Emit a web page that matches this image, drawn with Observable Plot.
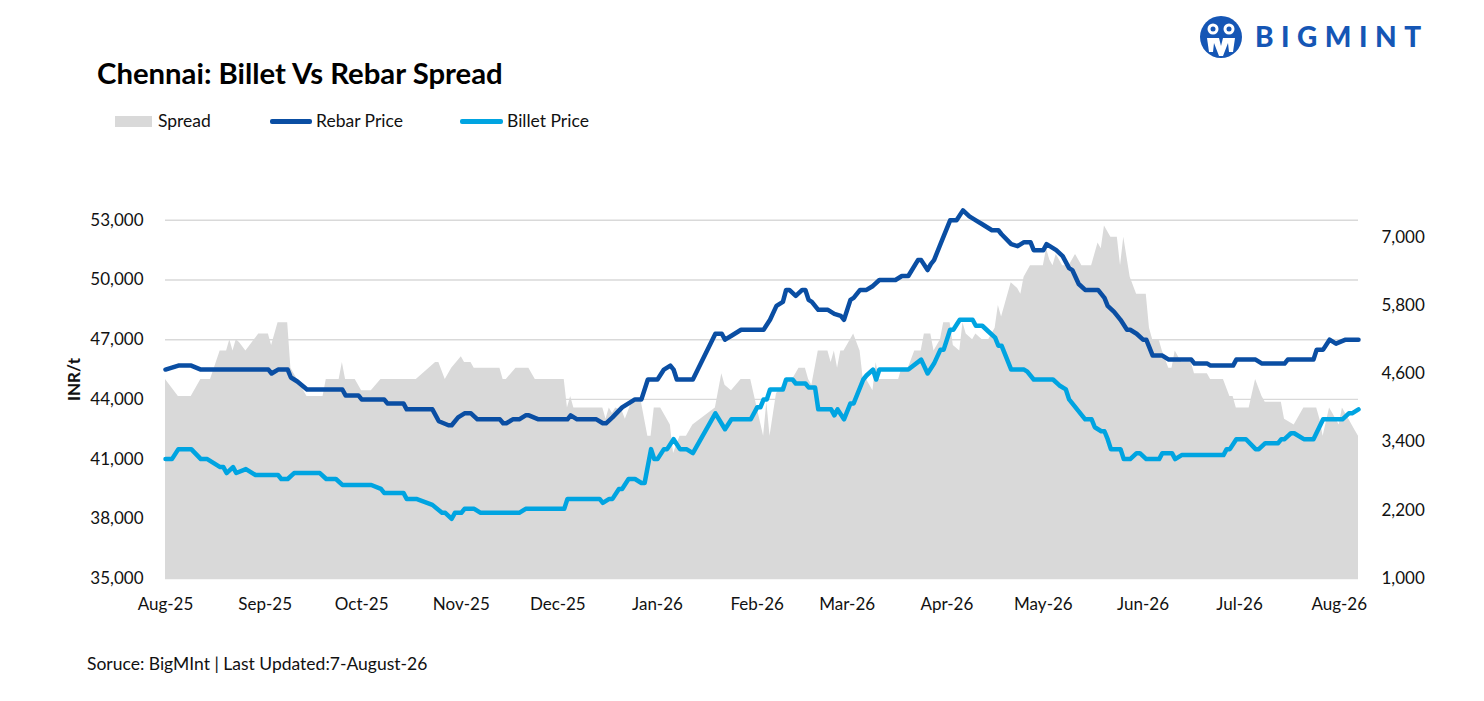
<!DOCTYPE html>
<html>
<head>
<meta charset="utf-8">
<script src="https://cdn.jsdelivr.net/npm/d3@7"></script>
<script src="https://cdn.jsdelivr.net/npm/@observablehq/plot@0.6"></script>
<style>
  html, body { margin: 0; padding: 0; background: #fff; }
  body { width: 1484px; height: 701px; overflow: hidden; font-family: Lato, "Open Sans", sans-serif; color: #111; }
  #header { position: relative; width: 1484px; height: 150px; }
  #title { position: absolute; left: 97px; top: 56px; font-size: 29.3px; line-height: 34px; font-weight: 700; color: #000; white-space: nowrap; }
  .lg-text { position: absolute; top: 110px; font-size: 17.5px; line-height: 22px; color: #111; white-space: nowrap; }
  .lg-swatch { position: absolute; }
  #logo { position: absolute; left: 1195px; top: 12px; }
  #chart { width: 1484px; height: 490px; }
  #chart svg { display: block; }
  #footer { position: relative; width: 1484px; height: 61px; }
  #source { position: absolute; left: 87px; top: 13px; font-size: 17.5px; line-height: 22px; color: #111; white-space: nowrap; }
  g[aria-label="y-axis label"] text { font-weight: 700; }
</style>
</head>
<body>
<div id="header">
  <svg id="logo" width="245" height="52" viewBox="0 0 245 52">
    <circle cx="26" cy="25" r="21" fill="#1556b5"/>
    <circle cx="18" cy="17" r="5.5" fill="#fff"/>
    <circle cx="18" cy="17" r="2.5" fill="#1556b5"/>
    <circle cx="34" cy="17" r="5.5" fill="#fff"/>
    <circle cx="34" cy="17" r="2.5" fill="#1556b5"/>
    <path d="M12 26 L24 26 L26 34 L28 26 L40 26 L38 40 L34 40 L33 31 L28 44 L24 44 L19 31 L18 40 L14 40 Z" fill="#fff"/>
    <text x="60" y="35" font-family="Lato, sans-serif" font-weight="900" font-size="28" letter-spacing="7.5" fill="#1556b5">BIGMINT</text>
  </svg>
  <div id="title">Chennai: Billet Vs Rebar Spread</div>
  <div class="lg-swatch" style="left:115px;top:116px;width:37px;height:11px;background:#d9d9d9;"></div>
  <div class="lg-text" style="left:158px;">Spread</div>
  <div class="lg-swatch" style="left:270px;top:119px;width:42px;height:4.5px;border-radius:2px;background:#0a4ea3;"></div>
  <div class="lg-text" style="left:316px;">Rebar Price</div>
  <div class="lg-swatch" style="left:460px;top:119px;width:43px;height:4.5px;border-radius:2px;background:#00a4e1;"></div>
  <div class="lg-text" style="left:507px;">Billet Price</div>
</div>
<div id="chart"></div>
<div id="footer">
  <div id="source">Soruce: BigMInt | Last Updated:7-August-26</div>
</div>
<script>
// ---------- DATA ----------
const monthTicks = ["2025-08-01","2025-09-01","2025-10-01","2025-11-01","2025-12-01","2026-01-01","2026-02-01","2026-03-01","2026-04-01","2026-05-01","2026-06-01","2026-07-01","2026-08-01"];
const leftTicks = [35000, 38000, 41000, 44000, 47000, 50000, 53000];
const rightTicks = [1000, 2200, 3400, 4600, 5800, 7000];
const leftDomain = [35000, 55000];
const rightDomain = [1000, 8000];
const xDomain = ["2025-08-01", "2026-08-07"];

const rebarDates = ["2025-08-01","2025-08-05","2025-08-09","2025-08-12","2025-09-02","2025-09-03","2025-09-05","2025-09-08","2025-09-09","2025-09-11","2025-09-14","2025-09-25","2025-09-26","2025-09-30","2025-10-01","2025-10-08","2025-10-09","2025-10-14","2025-10-15","2025-10-23","2025-10-25","2025-10-28","2025-10-29","2025-10-31","2025-11-02","2025-11-04","2025-11-06","2025-11-13","2025-11-14","2025-11-15","2025-11-17","2025-11-19","2025-11-21","2025-11-22","2025-11-25","2025-12-04","2025-12-05","2025-12-07","2025-12-13","2025-12-15","2025-12-16","2025-12-18","2025-12-21","2025-12-23","2025-12-25","2025-12-27","2025-12-29","2026-01-01","2026-01-03","2026-01-05","2026-01-06","2026-01-07","2026-01-12","2026-01-19","2026-01-21","2026-01-22","2026-01-24","2026-01-27","2026-02-03","2026-02-05","2026-02-07","2026-02-09","2026-02-10","2026-02-11","2026-02-13","2026-02-15","2026-02-16","2026-02-17","2026-02-18","2026-02-20","2026-02-23","2026-02-25","2026-02-27","2026-02-28","2026-03-02","2026-03-03","2026-03-05","2026-03-07","2026-03-09","2026-03-11","2026-03-16","2026-03-18","2026-03-20","2026-03-23","2026-03-24","2026-03-26","2026-03-27","2026-03-28","2026-03-30","2026-04-02","2026-04-04","2026-04-06","2026-04-08","2026-04-10","2026-04-12","2026-04-15","2026-04-17","2026-04-18","2026-04-21","2026-04-23","2026-04-25","2026-04-27","2026-04-28","2026-05-01","2026-05-02","2026-05-04","2026-05-05","2026-05-07","2026-05-09","2026-05-10","2026-05-12","2026-05-14","2026-05-18","2026-05-20","2026-05-21","2026-05-23","2026-05-25","2026-05-27","2026-05-28","2026-05-30","2026-06-01","2026-06-02","2026-06-04","2026-06-07","2026-06-09","2026-06-16","2026-06-17","2026-06-21","2026-06-22","2026-06-29","2026-06-30","2026-07-06","2026-07-08","2026-07-15","2026-07-16","2026-07-24","2026-07-25","2026-07-27","2026-07-29","2026-07-31","2026-08-03","2026-08-07"];
const rebarValues = [45500,45700,45700,45500,45500,45300,45500,45500,45100,44900,44500,44500,44200,44200,44000,44000,43800,43800,43500,43500,42900,42700,42700,43100,43300,43300,43000,43000,42800,42800,43000,43000,43200,43200,43000,43000,43200,43000,43000,42800,42800,43100,43600,43800,44000,44000,45000,45000,45500,45700,45500,45000,45000,47300,47300,47000,47200,47500,47500,48000,48700,48900,49500,49500,49200,49500,49500,49000,48900,48500,48500,48300,48200,48000,49000,49100,49500,49500,49700,50000,50000,50200,50200,51000,51000,50500,50800,51000,51800,53000,53000,53500,53200,53000,52800,52500,52500,52300,51800,51700,51900,51900,51500,51500,51800,51600,51500,51200,50600,50500,49800,49500,49500,49100,48700,48400,48000,47500,47500,47300,47000,47000,46200,46200,46000,46000,45800,45800,45700,45700,46000,46000,45800,45800,46000,46000,46500,46500,47000,46800,47000,47000];

const billetDates = ["2025-08-01","2025-08-03","2025-08-05","2025-08-09","2025-08-12","2025-08-14","2025-08-18","2025-08-19","2025-08-20","2025-08-22","2025-08-23","2025-08-26","2025-08-29","2025-09-05","2025-09-06","2025-09-08","2025-09-10","2025-09-18","2025-09-20","2025-09-23","2025-09-25","2025-10-04","2025-10-07","2025-10-08","2025-10-14","2025-10-15","2025-10-18","2025-10-23","2025-10-26","2025-10-27","2025-10-29","2025-10-30","2025-11-01","2025-11-02","2025-11-05","2025-11-07","2025-11-19","2025-11-21","2025-12-03","2025-12-04","2025-12-14","2025-12-15","2025-12-17","2025-12-18","2025-12-20","2025-12-21","2025-12-23","2025-12-25","2025-12-27","2025-12-28","2025-12-30","2025-12-31","2026-01-01","2026-01-03","2026-01-04","2026-01-06","2026-01-08","2026-01-10","2026-01-12","2026-01-19","2026-01-22","2026-01-24","2026-01-30","2026-02-01","2026-02-02","2026-02-03","2026-02-04","2026-02-05","2026-02-09","2026-02-10","2026-02-12","2026-02-13","2026-02-16","2026-02-17","2026-02-19","2026-02-20","2026-02-24","2026-02-25","2026-02-26","2026-02-28","2026-03-02","2026-03-03","2026-03-06","2026-03-07","2026-03-09","2026-03-10","2026-03-11","2026-03-20","2026-03-24","2026-03-26","2026-03-28","2026-03-30","2026-03-31","2026-04-02","2026-04-03","2026-04-05","2026-04-09","2026-04-10","2026-04-12","2026-04-14","2026-04-16","2026-04-17","2026-04-18","2026-04-21","2026-04-25","2026-04-26","2026-04-28","2026-05-04","2026-05-06","2026-05-08","2026-05-09","2026-05-10","2026-05-14","2026-05-16","2026-05-17","2026-05-19","2026-05-20","2026-05-21","2026-05-22","2026-05-25","2026-05-26","2026-05-28","2026-05-30","2026-05-31","2026-06-02","2026-06-06","2026-06-07","2026-06-10","2026-06-11","2026-06-13","2026-06-26","2026-06-27","2026-06-28","2026-06-30","2026-07-03","2026-07-06","2026-07-07","2026-07-09","2026-07-13","2026-07-14","2026-07-15","2026-07-17","2026-07-18","2026-07-21","2026-07-24","2026-07-27","2026-08-02","2026-08-04","2026-08-05","2026-08-07"];
const billetValues = [41000,41000,41500,41500,41000,41000,40600,40600,40300,40600,40300,40500,40200,40200,40000,40000,40300,40300,40000,40000,39700,39700,39500,39300,39300,39000,39000,38700,38300,38300,38000,38300,38300,38500,38500,38300,38300,38500,38500,39000,39000,38800,39000,39000,39500,39500,40000,40000,39800,39800,41500,41000,41000,41500,41500,42000,41500,41500,41300,43300,42500,43000,43000,43600,43600,44000,44000,44500,44500,45000,45000,44800,44800,44600,44600,43500,43500,43200,43500,43000,43800,43800,45000,45200,45500,45000,45500,45500,46000,45300,45800,46500,46500,47500,47500,48000,48000,47700,47700,47400,47100,46700,46700,45500,45500,45400,45000,45000,44700,44500,44000,43800,43000,43000,42600,42400,42400,42000,41500,41500,41000,41000,41300,41300,41000,41000,41300,41300,41000,41200,41200,41500,41500,42000,42000,41500,41500,41800,41800,42000,42000,42300,42300,42000,42000,43000,43000,43300,43300,43500];

const spreadDates = ["2025-08-01","2025-08-05","2025-08-09","2025-08-12","2025-08-15","2025-08-18","2025-08-20","2025-08-21","2025-08-22","2025-08-23","2025-08-24","2025-08-26","2025-08-30","2025-09-02","2025-09-03","2025-09-05","2025-09-08","2025-09-09","2025-09-11","2025-09-14","2025-09-19","2025-09-20","2025-09-24","2025-09-25","2025-09-26","2025-09-29","2025-10-01","2025-10-04","2025-10-07","2025-10-18","2025-10-24","2025-10-25","2025-10-27","2025-10-29","2025-11-01","2025-11-02","2025-11-04","2025-11-05","2025-11-13","2025-11-14","2025-11-15","2025-11-18","2025-11-22","2025-11-24","2025-12-03","2025-12-04","2025-12-05","2025-12-06","2025-12-15","2025-12-16","2025-12-17","2025-12-18","2025-12-19","2025-12-21","2025-12-22","2025-12-24","2025-12-27","2025-12-29","2025-12-30","2025-12-31","2026-01-02","2026-01-05","2026-01-06","2026-01-08","2026-01-10","2026-01-12","2026-01-19","2026-01-21","2026-01-22","2026-01-24","2026-01-27","2026-01-30","2026-02-01","2026-02-03","2026-02-04","2026-02-05","2026-02-07","2026-02-09","2026-02-10","2026-02-12","2026-02-14","2026-02-16","2026-02-17","2026-02-18","2026-02-20","2026-02-23","2026-02-24","2026-02-25","2026-02-26","2026-02-27","2026-02-28","2026-03-02","2026-03-03","2026-03-05","2026-03-06","2026-03-07","2026-03-09","2026-03-10","2026-03-11","2026-03-17","2026-03-18","2026-03-20","2026-03-22","2026-03-24","2026-03-25","2026-03-27","2026-03-28","2026-03-30","2026-03-31","2026-04-02","2026-04-03","2026-04-05","2026-04-06","2026-04-07","2026-04-09","2026-04-10","2026-04-12","2026-04-14","2026-04-16","2026-04-17","2026-04-18","2026-04-21","2026-04-23","2026-04-24","2026-04-25","2026-04-27","2026-05-01","2026-05-02","2026-05-03","2026-05-04","2026-05-05","2026-05-07","2026-05-09","2026-05-11","2026-05-13","2026-05-16","2026-05-18","2026-05-19","2026-05-20","2026-05-22","2026-05-24","2026-05-25","2026-05-26","2026-05-28","2026-05-30","2026-06-02","2026-06-03","2026-06-04","2026-06-06","2026-06-07","2026-06-09","2026-06-10","2026-06-11","2026-06-13","2026-06-16","2026-06-17","2026-06-21","2026-06-22","2026-06-26","2026-06-28","2026-06-29","2026-06-30","2026-07-04","2026-07-06","2026-07-08","2026-07-09","2026-07-14","2026-07-15","2026-07-18","2026-07-21","2026-07-24","2026-07-25","2026-07-26","2026-07-27","2026-07-29","2026-07-30","2026-08-01","2026-08-02","2026-08-04","2026-08-05","2026-08-06","2026-08-07"];
const spreadValues = [4500,4200,4200,4500,4500,5000,5000,5200,5000,5200,5150,5000,5300,5300,5100,5500,5500,4700,4500,4200,4200,4500,4500,4800,4500,4500,4300,4300,4500,4500,4800,4800,4500,4700,4900,4800,4800,4700,4700,4500,4500,4700,4700,4500,4500,4000,4200,4000,4000,3800,4000,3900,4000,3950,3800,4100,4100,3500,3500,4000,4000,3700,3200,3500,3500,3700,4000,4600,4400,4300,4500,4500,4000,3500,4100,3500,4250,4400,4500,4500,4700,4700,4500,4400,5000,5000,4800,5000,4700,5000,5000,5200,5300,5000,4500,4500,4300,4800,4500,4500,4700,4700,5000,5000,5300,5300,5000,5200,5500,5500,5100,5000,5500,5300,5200,5300,5200,5200,5400,5800,5600,6200,6100,6000,6300,6500,6500,6800,6600,6500,6700,6500,6500,6700,6500,6500,6900,6800,7200,7000,7000,6500,7000,6300,6000,6000,5400,5200,5200,5000,4700,4700,5000,4800,4800,4600,4600,4500,4500,4200,4200,4000,4000,4500,4200,4100,4100,3800,3700,4000,4000,4000,3800,3500,4000,3900,3700,4000,3800,3700,3600,3500];

// ---------- BUILD ----------
const k = (leftDomain[1] - leftDomain[0]) / (rightDomain[1] - rightDomain[0]);
const toLeft = s => leftDomain[0] + (s - rightDomain[0]) * k;
const fromLeft = v => rightDomain[0] + (v - leftDomain[0]) / k;
const fmt = d3.format(",");

const rebar = rebarDates.map((d, i) => ({date: new Date(d), value: rebarValues[i]}));
const billet = billetDates.map((d, i) => ({date: new Date(d), value: billetValues[i]}));
const spread = spreadDates.map((d, i) => ({date: new Date(d), value: spreadValues[i]}));

const chart = Plot.plot({
  width: 1484,
  height: 490,
  marginTop: 30,
  marginBottom: 62,
  marginLeft: 165,
  marginRight: 126,
  style: {fontFamily: "Lato, 'Open Sans', sans-serif", fontSize: "17px", color: "#111", background: "transparent", overflow: "visible"},
  x: {type: "utc", domain: xDomain.map(d => new Date(d))},
  y: {domain: leftDomain},
  marks: [
    Plot.gridY(leftTicks, {stroke: "#d9d9d9", strokeOpacity: 1, strokeWidth: 1.4}),
    Plot.areaY(spread, {x: "date", y1: leftDomain[0], y2: d => toLeft(d.value), fill: "#d9d9d9", curve: "linear"}),
    Plot.lineY(rebar, {x: "date", y: "value", stroke: "#0a4ea3", strokeWidth: 4.5, strokeLinejoin: "round", curve: "linear"}),
    Plot.lineY(billet, {x: "date", y: "value", stroke: "#00a4e1", strokeWidth: 4.5, strokeLinejoin: "round", curve: "linear"}),
    Plot.axisX(monthTicks.map(d => new Date(d)), {tickFormat: d3.utcFormat("%b-%y"), tickSize: 0, tickPadding: 19, label: null}),
    Plot.axisY(leftTicks, {anchor: "left", tickFormat: fmt, tickSize: 0, tickPadding: 22, label: "INR/t", labelAnchor: "center", labelOffset: 98, labelArrow: "none"}),
    Plot.axisY(rightTicks.map(toLeft), {anchor: "right", tickFormat: v => fmt(Math.round(fromLeft(v))), tickSize: 0, tickPadding: 23, label: null})
  ]
});
document.getElementById("chart").appendChild(chart);
</script>
</body>
</html>
